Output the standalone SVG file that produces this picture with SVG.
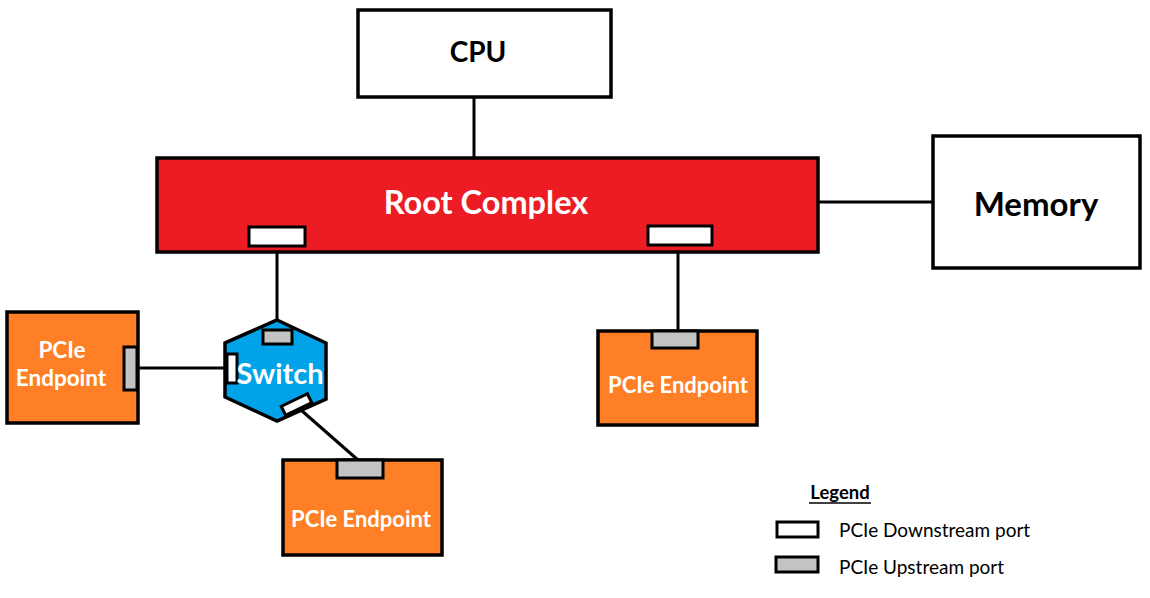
<svg xmlns="http://www.w3.org/2000/svg" width="1150" height="598" viewBox="0 0 1150 598">
  <style>
    .box{stroke:#000;stroke-width:3.5}
    .white{fill:#fff}
    .red{fill:#ED1C24}
    .orange{fill:#FF7F27}
    .blue{fill:#00A2E8}
    .down{fill:#fff;stroke:#000;stroke-width:3}
    .up{fill:#C3C3C3;stroke:#000;stroke-width:3}
    .conn{stroke:#000;stroke-width:3;fill:none}
    .t{font-family:Lato,"Open Sans","Liberation Sans",sans-serif;font-weight:bold;text-anchor:middle}
    .tb{fill:#000}
    .tw{fill:#fff}
    .leg{font-family:Lato,"Open Sans","Liberation Sans",sans-serif;font-size:19px;fill:#000}
  </style>
  <rect width="1150" height="598" fill="#fff"/>
  <g id="connectors">
    <line class="conn" x1="474" y1="97" x2="474" y2="158"/>
    <line class="conn" x1="818" y1="202" x2="933" y2="202"/>
    <line class="conn" x1="277" y1="246" x2="277" y2="320"/>
    <line class="conn" x1="678" y1="246" x2="678" y2="331"/>
    <line class="conn" x1="138" y1="368" x2="227" y2="368"/>
    <line class="conn" x1="301" y1="410" x2="358" y2="460"/>
  </g>
  <g id="cpu">
    <rect class="box white" x="358" y="10" width="253" height="87"/>
    <text class="t tb" x="478" y="62" font-size="28">CPU</text>
  </g>
  <g id="memory">
    <rect class="box white" x="933" y="136" width="207" height="132"/>
    <text class="t tb" x="1036" y="216" font-size="33">Memory</text>
  </g>
  <g id="root-complex">
    <rect class="box red" x="157" y="158" width="661" height="94"/>
    <text class="t tw" x="486" y="214" font-size="32.5">Root Complex</text>
    <rect class="down" x="249" y="227" width="56" height="19"/>
    <rect class="down" x="648" y="226" width="64" height="19"/>
  </g>
  <g id="switch">
    <polygon class="box blue" points="277,320 326,343 326,399 277,421 225,397 225,343"/>
    <rect class="up" x="263" y="330" width="29" height="14"/>
    <rect class="down" x="227" y="354" width="10" height="29"/>
    <rect class="down" x="-14.5" y="-5" width="29" height="10" transform="translate(296.5,404.5) rotate(-26)"/>
    <text class="t tw" x="280" y="384" font-size="29">Switch</text>
  </g>
  <g id="endpoint-left">
    <rect class="box orange" x="7" y="312" width="131" height="111"/>
    <rect class="up" x="124" y="347" width="13" height="43"/>
    <text class="t tw" x="62" y="358" font-size="22.5">PCIe</text>
    <text class="t tw" x="61" y="386" font-size="22.5">Endpoint</text>
  </g>
  <g id="endpoint-bottom">
    <rect class="box orange" x="283" y="460" width="159" height="95"/>
    <rect class="up" x="337" y="460" width="46" height="18"/>
    <text class="t tw" x="361" y="527" font-size="22">PCIe Endpoint</text>
  </g>
  <g id="endpoint-right">
    <rect class="box orange" x="598" y="331" width="159" height="94"/>
    <rect class="up" x="652" y="331" width="46" height="17"/>
    <text class="t tw" x="678" y="393" font-size="22">PCIe Endpoint</text>
  </g>
  <g id="legend">
    <text class="t tb" x="840" y="499" font-size="18.5">Legend</text>
    <line x1="809" y1="503" x2="871" y2="503" stroke="#000" stroke-width="1.5"/>
    <rect class="down" x="777" y="522" width="41" height="15"/>
    <rect class="up" x="776" y="557" width="42" height="15"/>
    <text class="leg" x="839" y="537">PCIe Downstream port</text>
    <text class="leg" x="839" y="574">PCIe Upstream port</text>
  </g>
</svg>
